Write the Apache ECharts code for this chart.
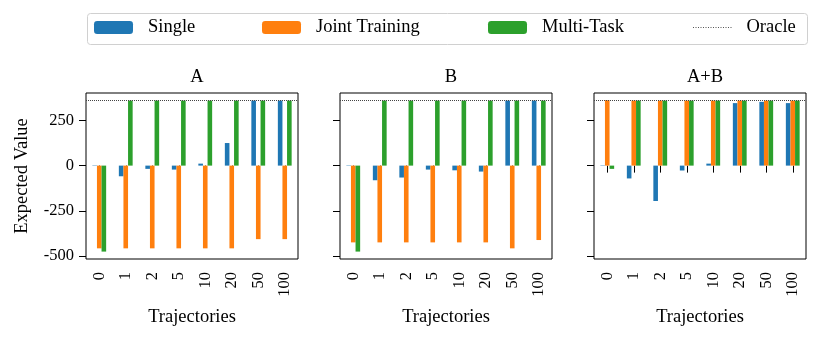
<!DOCTYPE html>
<html>
<head>
<meta charset="utf-8">
<script src="https://cdn.jsdelivr.net/npm/echarts@6/dist/echarts.min.js"></script>
<style>
html,body{margin:0;padding:0;background:#fff;}
#chart{width:830px;height:341px;}
</style>
</head>
<body>
<div id="chart"></div>
<script>
var categories = ['0', '1', '2', '5', '10', '20', '50', '100'];
var panelTitles = ['A', 'B', 'A+B'];
var yTicks = [-500, -250, 0, 250];
var oracleValues = [360, 360, 361];

var singleA = [-2, -59, -18, -22, 11, 125, 360, 360];
var jointA  = [-458, -458, -458, -458, -458, -458, -407, -407];
var multiA  = [-476, 360, 360, 360, 360, 360, 360, 360];

var singleB = [-2, -81, -66, -22, -26, -33, 360, 360];
var jointB  = [-425, -425, -425, -425, -425, -425, -458, -412];
var multiB  = [-476, 360, 360, 360, 360, 360, 360, 360];

var singleAB = [-2, -71, -196, -27, 11, 346, 353, 346];
var jointAB  = [362, 360, 360, 360, 360, 360, 360, 360];
var multiAB  = [-18, 360, 360, 360, 360, 360, 360, 360];

var panels = [
  [singleA, jointA, multiA],
  [singleB, jointB, multiB],
  [singleAB, jointAB, multiAB]
];
var names = ['Single', 'Joint Training', 'Multi-Task'];
var colors = ['#1f77b4', '#ff7f0e', '#2ca02c'];
var FONT = 'Liberation Serif';

var gridLefts = [86, 340, 594];
var GW = 212, GT = 93, GH = 166;

var grids = [], xAxes = [], yAxes = [], series = [], titles = [];
for (var p = 0; p < 3; p++) {
  grids.push({left: gridLefts[p], top: GT, width: GW, height: GH, show: true,
    borderColor: '#000', borderWidth: 1, backgroundColor: 'transparent', containLabel: false});
  xAxes.push({type: 'category', gridIndex: p, data: categories, boundaryGap: true,
    axisLine: {show: false},
    axisTick: {show: true, alignWithLabel: true, length: 7, lineStyle: {color: '#000', width: 1}},
    axisLabel: {rotate: 90, fontSize: 16.5, fontFamily: FONT, color: '#000', margin: 13},
    name: 'Trajectories', nameLocation: 'middle', nameGap: 49,
    nameTextStyle: {fontSize: 18.5, fontFamily: FONT, color: '#000'},
    splitLine: {show: false}});
  yAxes.push({type: 'value', gridIndex: p, min: -517, max: 402,
    axisLine: {show: false},
    axisTick: {show: true, length: 7, customValues: yTicks, lineStyle: {color: '#000', width: 1}},
    axisLabel: {show: p === 0, customValues: yTicks, fontSize: 16.5, fontFamily: FONT, color: '#000', margin: 12},
    splitLine: {show: false},
    name: p === 0 ? 'Expected Value' : '', nameLocation: 'middle', nameRotate: 90, nameGap: 54,
    nameTextStyle: {fontSize: 18.5, fontFamily: FONT, color: '#000'}});
  for (var s = 0; s < 3; s++) {
    series.push({type: 'bar', name: names[s], xAxisIndex: p, yAxisIndex: p,
      data: panels[p][s], barWidth: 4.6, barGap: '0%',
      itemStyle: {color: colors[s]}, animation: false});
  }
  series.push({type: 'line', name: 'Oracle', xAxisIndex: p, yAxisIndex: p, data: [],
    symbol: 'none', showSymbol: false, itemStyle: {color: '#555'},
    lineStyle: {type: 'dotted', width: 1, color: '#555'}, animation: false,
    markLine: {silent: true, symbol: ['none', 'none'], label: {show: false},
      lineStyle: {type: 'dotted', width: 1, color: '#444'},
      data: [{yAxis: oracleValues[p]}]}});
  titles.push({text: panelTitles[p], left: gridLefts[p] + GW / 2, textAlign: 'center', top: 63,
    textStyle: {fontSize: 18.5, fontFamily: FONT, color: '#000', fontWeight: 'normal'}});
}

// dotted-line legend icon for the Oracle entry
var dotPath = 'path://';
for (var d = 0; d < 16; d++) {
  var x0 = (d * 2.5).toFixed(1);
  dotPath += 'M' + x0 + ' 0h1v1h-1z';
}

var legendLefts = [94, 262, 488, 693];
var legendNames = ['Single', 'Joint Training', 'Multi-Task', 'Oracle'];
var legends = legendNames.map(function (n, i) {
  var isOracle = n === 'Oracle';
  var item = isOracle ? {name: n, icon: dotPath} : {name: n};
  return {data: [item], left: legendLefts[i], top: 18, padding: 0,
    itemWidth: isOracle ? 38.5 : 39, itemHeight: isOracle ? 1 : 13,
    selectedMode: false,
    textStyle: {fontSize: 18.5, fontFamily: FONT, color: '#000', padding: [0, 0, 0, 10]}};
});

var chart = echarts.init(document.getElementById('chart'), null, {renderer: 'canvas'});
chart.setOption({
  animation: false,
  title: titles,
  legend: legends,
  grid: grids,
  xAxis: xAxes,
  yAxis: yAxes,
  series: series,
  graphic: [{type: 'rect', z: -1, shape: {x: 87.5, y: 13.5, width: 720, height: 31, r: 3},
    style: {fill: '#fff', stroke: '#d0d0d0', lineWidth: 1}}]
});
</script>
</body>
</html>
